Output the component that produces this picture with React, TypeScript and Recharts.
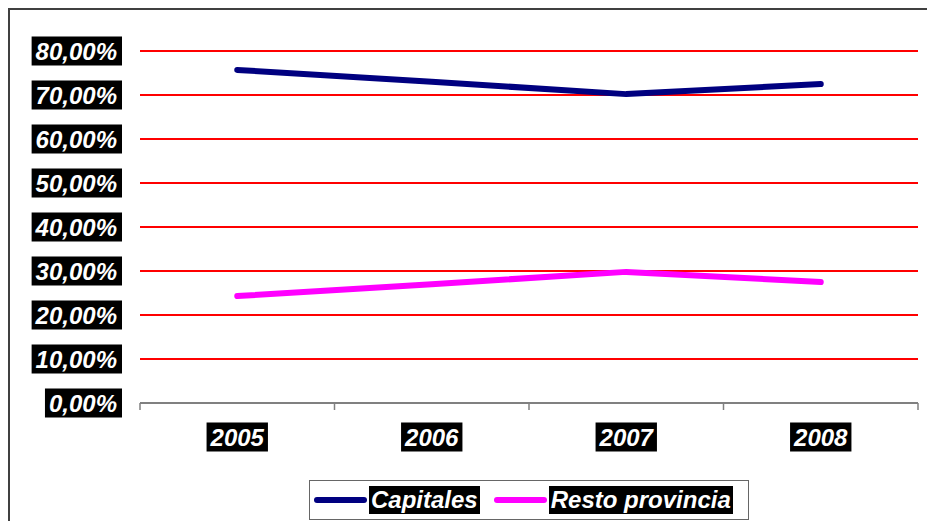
import { LineChart, Line, XAxis, YAxis, CartesianGrid } from 'recharts';

// values (share of total)
const years = ['2005', '2006', '2007', '2008'];
const capitales = [0.757, 0.73, 0.702, 0.725];
const restoProvincia = [0.243, 0.27, 0.298, 0.275];
const yTicks = [0, 0.1, 0.2, 0.3, 0.4, 0.5, 0.6, 0.7, 0.8];

const NAVY = '#000080';
const PINK = '#FF00FF';
const FONT = '"Liberation Sans", Arial, sans-serif';
const FS = 24;

const chartWidth = 917;
const chartHeight = 511;
const plotWidth = 778;
const halfBand = plotWidth / years.length / 2;

const data = years.map((year, i) => ({
  year,
  Capitales: capitales[i],
  'Resto provincia': restoProvincia[i],
}));

// rough Arial Bold advance widths (em)
const charW: Record<string, number> = {
  ',': 0.278, '%': 0.889, ' ': 0.278, C: 0.722, R: 0.722, a: 0.556, p: 0.611, i: 0.278,
  t: 0.333, l: 0.278, e: 0.556, s: 0.556, o: 0.611, r: 0.389, v: 0.556, n: 0.611, c: 0.556,
};
const textW = (s: string) => s.split('').reduce((acc, ch) => acc + (charW[ch] ?? 0.556), 0) * FS;

const fmtPct = (v: number) => (v * 100).toFixed(2).replace('.', ',') + '%';

const textStyle = {
  fill: '#fff',
  fontFamily: FONT,
  fontSize: FS,
  fontWeight: 'bold' as const,
  fontStyle: 'italic' as const,
};

const YTick = (props: any) => {
  const { x, y, payload } = props;
  const s = fmtPct(payload.value);
  const w = textW(s);
  return (
    <g>
      <rect x={x - w - 4} y={y - 14.5} width={w + 9} height={29} fill="#000" />
      <text x={x} y={y} dy={8.6} textAnchor="end" {...textStyle}>{s}</text>
    </g>
  );
};

const XTick = (props: any) => {
  const { x, y, payload, index } = props;
  const s = String(payload.value);
  const w = textW(s);
  const cy = y + 34;
  return (
    <g>
      <line x1={x - halfBand} y1={y} x2={x - halfBand} y2={y + 7} stroke="#808080" strokeWidth={1.5} />
      {index === years.length - 1 && (
        <line x1={x + halfBand} y1={y} x2={x + halfBand} y2={y + 7} stroke="#808080" strokeWidth={1.5} />
      )}
      <rect x={x - w / 2 - 4} y={cy - 14.5} width={w + 8} height={29} fill="#000" />
      <text x={x} y={cy} dy={8.6} textAnchor="middle" {...textStyle}>{s}</text>
    </g>
  );
};

const legendText = {
  background: '#000',
  color: '#fff',
  fontFamily: FONT,
  fontSize: FS,
  fontWeight: 'bold' as const,
  fontStyle: 'italic' as const,
  lineHeight: '28px',
  padding: '0 2px',
  marginLeft: 2,
};

const swatch = (color: string) => ({
  width: 53,
  height: 6,
  borderRadius: 3,
  background: color,
});

export default function App() {
  return (
    <div style={{ position: 'fixed', left: 0, top: 0, width: 927, height: 521, overflow: 'hidden', background: '#fff' }}>
      <div
        style={{
          position: 'absolute',
          left: 8,
          top: 8,
          width: 940,
          height: 540,
          border: '2px solid #404040',
        }}
      >
        <LineChart
          width={chartWidth}
          height={chartHeight}
          data={data}
          margin={{ top: 41, right: 9, bottom: 68, left: 0 }}
        >
          <CartesianGrid horizontal vertical={false} stroke="#FF0000" strokeWidth={2} />
          <YAxis
            domain={[0, 0.8]}
            ticks={yTicks}
            width={130}
            axisLine={false}
            tickLine={false}
            tickSize={0}
            tickMargin={23}
            tick={<YTick />}
            interval={0}
          />
          <XAxis
            dataKey="year"
            height={50}
            padding={{ left: halfBand, right: halfBand }}
            axisLine={{ stroke: '#808080', strokeWidth: 2 }}
            tickLine={false}
            tickSize={0}
            tickMargin={0}
            tick={<XTick />}
            interval={0}
          />
          <Line
            dataKey="Capitales"
            stroke={NAVY}
            strokeWidth={6}
            strokeLinecap="round"
            strokeLinejoin="round"
            dot={false}
            activeDot={false}
            isAnimationActive={false}
          />
          <Line
            dataKey="Resto provincia"
            stroke={PINK}
            strokeWidth={6}
            strokeLinecap="round"
            strokeLinejoin="round"
            dot={false}
            activeDot={false}
            isAnimationActive={false}
          />
        </LineChart>
        <div
          style={{
            position: 'absolute',
            left: 299,
            top: 470,
            width: 438,
            height: 38,
            border: '1px solid #666',
            display: 'flex',
            alignItems: 'center',
            background: '#fff',
          }}
        >
          <div style={{ ...swatch(NAVY), marginLeft: 4 }} />
          <span style={legendText}>Capitales</span>
          <div style={{ ...swatch(PINK), marginLeft: 14 }} />
          <span style={legendText}>Resto provincia</span>
        </div>
      </div>
    </div>
  );
}
